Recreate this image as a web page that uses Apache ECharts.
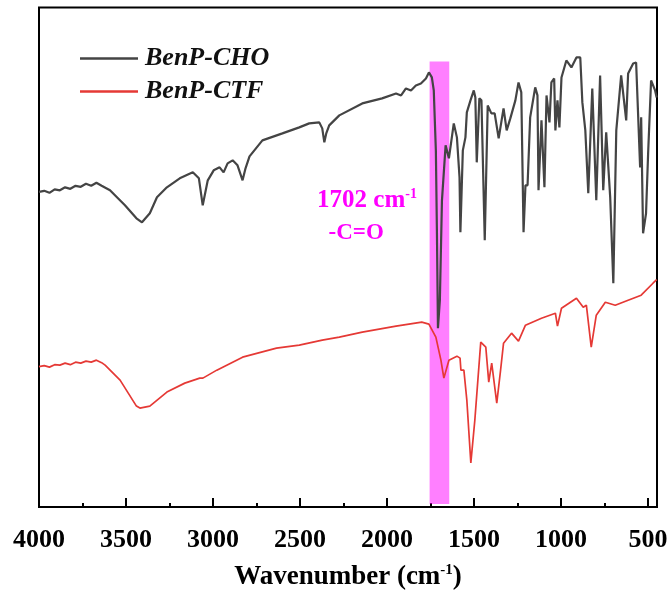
<!DOCTYPE html>
<html>
<head>
<meta charset="utf-8">
<script src="https://cdn.jsdelivr.net/npm/echarts@6/dist/echarts.min.js"></script>
<style>
html,body{margin:0;padding:0;background:#fff;}
#chart{width:672px;height:592px;}
</style>
</head>
<body>
<div id="chart"></div>
<script>
// Wavenumber (cm-1) and transmittance (a.u.)
const choWn = [4000,3970,3940,3910,3880,3850,3820,3790,3760,3730,3700,3670,3640,3592,3506,3440,3408,3363,3322,3265,3191,3116,3081,3059,3030,2996,2962,2939,2916,2887,2859,2830,2813,2790,2716,2601,2504,2447,2389,2372,2360,2349,2332,2274,2142,2028,1948,1919,1891,1862,1834,1805,1776,1759,1742,1731,1719,1713,1707,1696,1684,1663,1644,1616,1598,1583,1578,1564,1549,1541,1520,1501,1492,1484,1469,1457,1438,1421,1400,1381,1358,1330,1312,1291,1262,1244,1228,1215,1204,1192,1177,1148,1135,1129,1112,1095,1083,1066,1055,1039,1032,1020,1009,997,969,940,911,889,877,860,843,820,797,775,757,740,717,699,682,654,625,614,585,568,545,539,528,511,499,482,459,450];
const choT  = [63.1,63.3,62.9,63.6,63.4,64.0,63.7,64.3,64.1,64.7,64.3,64.9,64.3,63.4,60.4,57.8,57.0,58.8,62.0,64.0,65.8,67.0,65.8,60.4,65.4,67.4,68.0,67.0,68.8,69.4,68.4,65.4,67.8,70.2,73.4,74.8,76.0,76.8,77.0,75.8,73.0,74.8,76.4,78.4,80.8,81.8,82.8,82.4,83.8,83.4,84.4,84.8,85.8,87.0,86.0,83.4,71.4,55.4,35.8,41.4,61.4,72.4,69.8,76.8,74.0,66.0,55.0,71.4,74.0,79.0,81.4,83.4,82.0,69.0,81.8,81.4,53.4,80.4,78.8,78.8,73.8,79.8,75.4,77.8,81.4,85.0,83.0,55.0,64.4,64.4,78.0,84.0,82.4,63.4,77.4,64.0,82.4,77.0,85.0,85.8,75.4,81.4,76.0,86.0,89.4,88.0,90.0,90.0,81.0,75.4,62.8,83.8,61.4,86.4,63.4,75.0,62.0,44.8,75.4,86.4,77.4,86.8,88.8,89.0,68.0,78.0,54.8,58.8,70.8,85.4,83.4,82.0];
const ctfWn = [4000,3970,3940,3910,3880,3850,3820,3790,3760,3730,3700,3670,3640,3620,3534,3440,3420,3363,3265,3162,3076,3058,2978,2830,2635,2504,2372,2274,2142,1948,1800,1759,1719,1690,1673,1644,1598,1580,1575,1558,1541,1518,1495,1461,1432,1415,1398,1369,1347,1330,1284,1244,1204,1112,1032,1020,997,911,872,854,826,797,745,688,614,539,471,450];
const ctfT  = [28.1,28.3,28.0,28.5,28.4,28.8,28.5,29.0,28.8,29.2,29.0,29.4,28.9,28.4,25.4,20.2,19.8,20.2,23.0,24.8,25.8,25.8,27.4,30.0,31.8,32.4,33.4,34.0,35.0,36.2,37.0,36.6,34.0,29.4,25.8,29.4,30.2,29.8,27.4,27.4,21.4,8.8,17.4,33.0,32.0,25.0,28.8,20.8,27.4,32.8,34.8,33.2,36.4,37.8,38.8,36.2,39.8,41.8,40.0,40.4,32.0,38.4,41.0,40.4,41.4,42.4,44.8,45.5];
const xTickStep = 500;
const bandRange = [1755, 1642];
const bandT = [0.6, 89.2];
const seriesNames = ['BenP-CHO', 'BenP-CTF'];
const zip = (a, b) => a.map((v, i) => [v, b[i]]);
const FONT = '"Times New Roman", "Liberation Serif", serif';
const chart = echarts.init(document.getElementById('chart'), null, {renderer: 'canvas'});
const xBase = {
  type: 'value', min: 448, max: 4000, inverse: true, splitNumber: 7,
  minInterval: xTickStep, maxInterval: xTickStep, gridIndex: 0, position: 'bottom',
  splitLine: {show: false}
};
chart.setOption({
  animation: false,
  backgroundColor: '#fff',
  grid: {left: 39, right: 15, top: 7.5, bottom: 85, show: true, borderColor: '#000', borderWidth: 2,
         containLabel: false, outerBoundsMode: 'none'},
  legend: {
    left: 80, top: 42, orient: 'vertical', padding: 0,
    icon: 'rect', itemWidth: 58, itemHeight: 2.5, itemGap: 0,
    data: seriesNames,
    textStyle: {fontFamily: FONT, fontSize: 26, fontWeight: 'bold', fontStyle: 'italic', color: '#111', lineHeight: 33, padding: [0, 0, 0, 2]}
  },
  xAxis: [
    Object.assign({}, xBase, {
      axisLine: {show: true, onZero: false, lineStyle: {color: '#000', width: 2}},
      axisTick: {show: true, inside: true, length: 9, lineStyle: {color: '#000', width: 2}},
      minorTick: {show: true, splitNumber: 2, length: 4, lineStyle: {color: '#000', width: 2}},
      axisLabel: {show: true, margin: 20, fontFamily: FONT, fontSize: 26, fontWeight: 'bold', color: '#000',
        formatter: v => String(v)},
      name: 'Wavenumber (cm{sup|-1})',
      nameLocation: 'middle', nameGap: 56, nameMoveOverlap: false,
      nameTextStyle: {fontFamily: FONT, fontSize: 27, fontWeight: 'bold', color: '#000',
        rich: {sup: {fontFamily: FONT, fontSize: 15, fontWeight: 'bold', color: '#000', verticalAlign: 'top', padding: [0,0,13,0]}}}
    }),
    Object.assign({}, xBase, {
      offset: 0,
      axisLine: {show: false, onZero: false},
      axisTick: {show: true, inside: true, length: 9, lineStyle: {color: '#000', width: 2}},
      minorTick: {show: false},
      axisLabel: {show: false}
    })
  ],
  yAxis: {type: 'value', min: 0, max: 100, show: false},
  series: [
    {name: seriesNames[0], type: 'line', data: zip(choWn, choT), showSymbol: false, symbol: 'none',
      lineStyle: {color: '#444', width: 2.2}, itemStyle: {color: '#444'}, z: 2},
    {name: seriesNames[1], type: 'line', data: zip(ctfWn, ctfT), showSymbol: false, symbol: 'none',
      lineStyle: {color: '#e53935', width: 1.7}, itemStyle: {color: '#e53935'}, z: 2},
    {name: 'band', type: 'line', data: [], z: 5, silent: true,
      markArea: {silent: true, itemStyle: {color: 'rgba(255,0,255,0.5)'},
        data: [[{xAxis: bandRange[0], yAxis: bandT[0]}, {xAxis: bandRange[1], yAxis: bandT[1]}]]},
      markPoint: {silent: true, symbol: 'circle', symbolSize: 0,
        label: {show: true, position: 'inside', fontFamily: FONT, fontWeight: 'bold', fontSize: 23, color: '#ff00ff',
          rich: {b: {fontFamily: FONT, fontWeight: 'bold', fontSize: 25, color: '#ff00ff'},
                 sup: {fontFamily: FONT, fontWeight: 'bold', fontSize: 14, color: '#ff00ff', verticalAlign: 'top', padding: [0,0,12,0]}}},
        data: [
          {coord: [2115, 61.4], label: {formatter: '{b|1702 cm}{sup|-1}'}},
          {coord: [2177, 54.8], label: {formatter: '-C=O'}}
        ]}
    }
  ]
});
</script>
</body>
</html>
